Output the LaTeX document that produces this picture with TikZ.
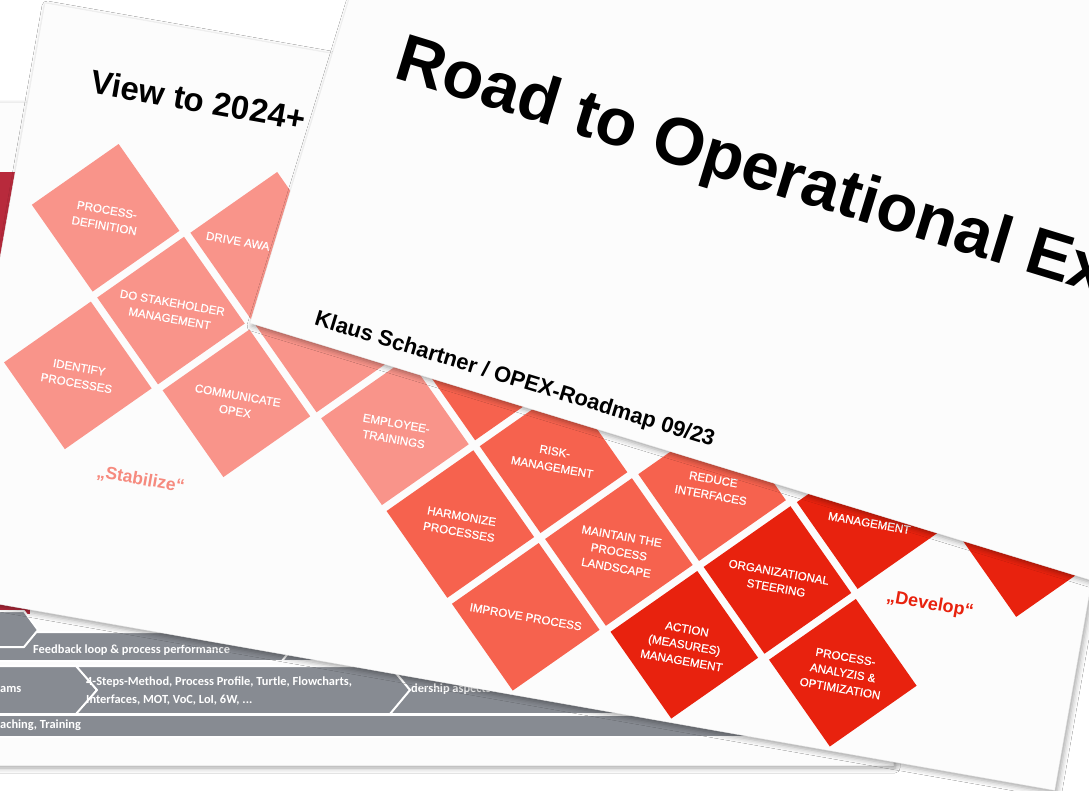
\documentclass[tikz,border=0pt]{standalone}
\usepackage{fontspec}
\newfontfamily\slidefont{Liberation Sans}
\newfontfamily\tilefont[FakeBold=0.6]{Liberation Sans}
\newfontfamily\barfont{Carlito}
\usetikzlibrary{shapes.geometric}
\usetikzlibrary{shadows.blur}

\definecolor{paper}{RGB}{252,252,252}
\definecolor{stab}{RGB}{249,148,138}
\definecolor{grow}{RGB}{246,98,78}
\definecolor{dev}{RGB}{232,34,14}
\definecolor{barg}{RGB}{135,139,146}
\definecolor{backred}{RGB}{184,42,60}
\definecolor{stabtxt}{RGB}{246,138,126}

\providecommand\slidesize[1]{\fontsize{#1}{1.38\dimexpr #1pt\relax}\selectfont}

\begin{document}
\begin{tikzpicture}[x = 1pt, y = -1pt, line join = round,
    slide/.style = {fill = paper, draw = black!7, line width = .4pt,
        blur shadow = {shadow xshift = 2pt, shadow yshift = -3pt, shadow blur radius = 5pt, shadow opacity = 35}},
    tile/.style = {diamond, aspect = 1, inner sep = 0pt, minimum width = 150pt, minimum height = 150pt,
        text = white, align = center, font = \tilefont\slidesize{11.6}},
    chev/.style = {fill = barg, draw = white, line width = 2pt},
    bartext/.style = {text = white, inner sep = 0pt, anchor = base west, font = \barfont\bfseries\fontsize{12.4}{14}\selectfont},
    head/.style = {inner sep = 0pt, anchor = base west, text = black},
]

    \useasboundingbox (0,0) rectangle (1089,791);
    \clip (0,0) rectangle (1089,791);
    \fill[white] (0,0) rectangle (1089,791);


    % slide at the back
    \path[slide] (-30,102) rectangle (893,765);
    \fill[backred] (-30,172) rectangle (40,400);
    \fill[backred] (-30,596) rectangle (30,614);

    \path[chev] (-30,715) rectangle (780,737);
    \path[chev] (270,632) -- (640,632) -- (652,646) -- (640,661) -- (270,661) -- (282,646) -- cycle;
    \path[chev] (-30,632) -- (282,632) -- (294,646) -- (282,661) -- (-30,661) -- cycle;
    \path[chev] (-30,611) -- (24,611) -- (38,630) -- (24,647) -- (-30,647) -- cycle;
    \path[chev] (-30,666) -- (78,666) -- (97,690) -- (78,714) -- (-30,714) -- cycle;
    \path[chev] (388,666) -- (700,666) -- (720,690) -- (700,714) -- (388,714) -- (408,690) -- cycle;
    \path[chev] (76,666) -- (390,666) -- (410,690) -- (390,714) -- (76,714) -- (97,690) -- cycle;

    \node (feedback) [bartext] at (33,653) {Feedback loop \& process performance};
    \node (teams)    [bartext] at (0,692) {ams};
    \node (steps)    [bartext] at (86,685) {4-Steps-Method, Process Profile, Turtle, Flowcharts,};
    \node (tools)    [bartext] at (86,703) {Interfaces, MOT, VoC, LoI, 6W, ...};
    \node (leader)   [bartext] at (411,692) {dership aspects};
    \node (coach)    [bartext] at (0,728) {aching, Training};


    % slide in the middle
    \begin{scope}[shift = {(45,3)}, rotate = -10, transform shape]
        \path[slide] (0,0) rectangle (1131,600);

        \node (view) [font = \slidefont\bfseries\fontsize{33}{36}\selectfont] at (168,69) {View to 2024+};

        \foreach \i/\j/\tone/\txt in {
            0/0/stab/{PROCESS-\\DEFINITION},
            2/0/stab/{},
            1/1/stab/{DO STAKEHOLDER\\MANAGEMENT},
            0/2/stab/{IDENTIFY\\PROCESSES},
            2/2/stab/{COMMUNICATE\\OPEX},
            3/1/stab/{},
            4/2/stab/{EMPLOYEE-\\TRAININGS},
            5/1/grow/{},
            5/3/grow/{HARMONIZE\\PROCESSES},
            6/2/grow/{RISK-\\MANAGEMENT},
            6/4/grow/{IMPROVE PROCESS},
            7/3/grow/{MAINTAIN THE\\PROCESS\\LANDSCAPE},
            8/2/grow/{REDUCE\\INTERFACES},
            8/4/dev/{ACTION\\(MEASURES)\\MANAGEMENT},
            9/3/dev/{ORGANIZATIONAL\\STEERING},
            10/2/dev/{\vphantom{M}\\MANAGEMENT},
            10/4/dev/{PROCESS-\\ANALYZIS \&\\OPTIMIZATION},
            12/2/dev/{}}
            \node (d-\i-\j) [tile, fill = \tone] at ({97+80.5*\i},{201+80*\j}) {\txt};

        \node (drive) [anchor = west, inner sep = 0pt, text = white, font = \tilefont\slidesize{11.6}] at (199,201) {DRIVE AWA};

        \node (stabilize) [text = stabtxt, font = \slidefont\bfseries\fontsize{17.5}{20}\selectfont] at (177,453) {„Stabilize“};
        \node (develop)   [text = dev, font = \slidefont\bfseries\fontsize{18}{20}\selectfont] at (976,439) {„Develop“};
    \end{scope}


    % title slide in front
    \begin{scope}[shift = {(250,323)}, rotate = -17, transform shape]
        \path[slide] (0,-800) rectangle (1300,0);

        \node (road)   [head, font = \slidefont\bfseries\fontsize{67}{70}\selectfont] at (64,-276) {Road to Operational Ex};
        \node (author) [head, font = \slidefont\bfseries\fontsize{22}{26}\selectfont] at (61,-17) {Klaus Schartner / OPEX-Roadmap 09/23};
    \end{scope}

\end{tikzpicture}
\end{document}
